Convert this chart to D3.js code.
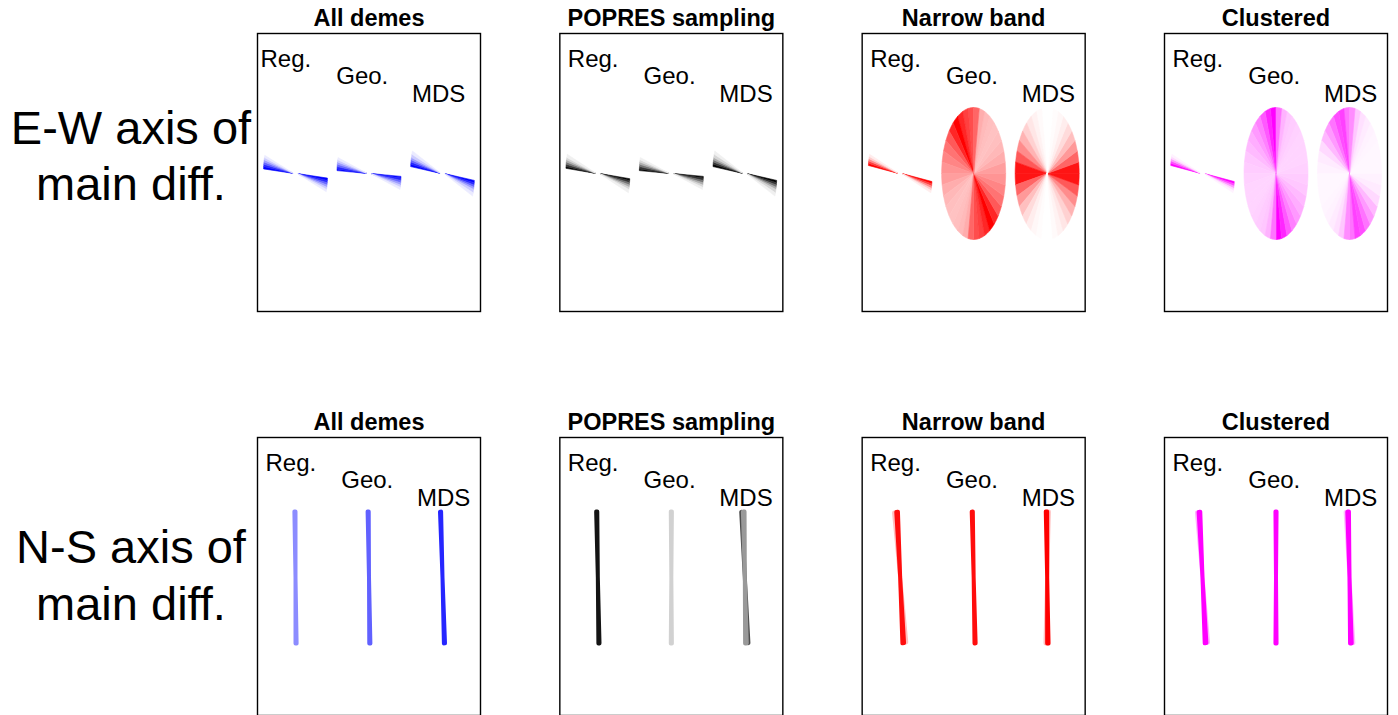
<!DOCTYPE html>
<html>
<head>
<meta charset="utf-8">
<script src="https://cdn.jsdelivr.net/npm/d3@7"></script>
<style>
    body { margin: 0; background: #fff; }
    text { font-family: Helvetica, Arial, "Liberation Sans", sans-serif; fill: #000; }
</style>
</head>
<body>
<script>

// Data ///////////////////////////////////////////

const samplings = ["All demes", "POPRES sampling", "Narrow band", "Clustered"];
const colours = ["#0000ff", "#000000", "#ff0000", "#ff00ff"];
const methods = ["Reg.", "Geo.", "MDS"];
const rows = ["E-W", "N-S"];
const rowLabels = [["E-W axis of", "main diff."], ["N-S axis of", "main diff."]];

// orientation bins of the estimated axis: [from deg, to deg, share]
// 0 = east-west, 90 = north-south; each bin is drawn both ways from the centre
const ewAllDemes = [
    [[-6, -4, 1], [-8, -6, 0.85], [-10, -8, 0.6], [-12, -10, 0.38], [-14, -12, 0.2], [-16, -14, 0.08]],
    [[-4, -2.5, 1], [-6, -4, 0.85], [-8, -6, 0.6], [-10, -8, 0.38], [-12, -10, 0.2], [-14, -12, 0.08]],
    [[-8, -6, 1], [-10, -8, 0.85], [-12, -10, 0.6], [-14, -12, 0.38], [-17, -14, 0.2], [-20, -17, 0.08]]
];
const ewPopres = [
    [[-6, -4.5, 1], [-8, -6, 0.8], [-10, -8, 0.55], [-12, -10, 0.32], [-14, -12, 0.16], [-17, -14, 0.06]],
    [[-4, -2.5, 1], [-6, -4, 0.8], [-8, -6, 0.55], [-10, -8, 0.32], [-12, -10, 0.16], [-14, -12, 0.06]],
    [[-8, -6, 1], [-10, -8, 0.8], [-12, -10, 0.55], [-14, -12, 0.32], [-17, -14, 0.16], [-20, -17, 0.06]]
];
const ewNarrow = [
    [[-9, -7, 1], [-11, -9, 0.75], [-13, -11, 0.45], [-15, -13, 0.2], [-17, -15, 0.07]],
    [[-90, -80, 0.7], [-80, -70, 0.75], [-70, -60, 0.85], [-60, -50, 1], [-50, -40, 0.85],
     [-40, -30, 0.65], [-30, -20, 0.55], [-20, -10, 0.48], [-10, 0, 0.42], [0, 10, 0.38],
     [10, 20, 0.32], [20, 30, 0.28], [30, 40, 0.25], [40, 50, 0.24], [50, 60, 0.25],
     [60, 70, 0.27], [70, 80, 0.32], [80, 90, 0.6]],
    [[-90, -80, 0], [-80, -70, 0.02], [-70, -60, 0.05], [-60, -50, 0.1], [-50, -40, 0.18],
     [-40, -30, 0.3], [-30, -20, 0.45], [-20, -10, 0.65], [-10, 0, 0.92], [0, 10, 0.92],
     [10, 20, 0.6], [20, 30, 0.4], [30, 40, 0.25], [40, 50, 0.14], [50, 60, 0.07],
     [60, 70, 0.03], [70, 80, 0.01], [80, 90, 0]]
];
const ewClustered = [
    [[-9, -7, 1], [-11, -9, 0.7], [-13, -11, 0.4], [-15, -13, 0.15], [-17, -15, 0.05]],
    [[-90, -80, 1], [-80, -70, 0.85], [-70, -60, 0.65], [-60, -50, 0.5], [-50, -40, 0.4],
     [-40, -30, 0.32], [-30, -20, 0.27], [-20, -10, 0.22], [-10, 0, 0.2], [0, 10, 0.18],
     [10, 20, 0.17], [20, 30, 0.17], [30, 40, 0.17], [40, 50, 0.18], [50, 60, 0.2],
     [60, 70, 0.22], [70, 80, 0.3], [80, 90, 0.55]],
    [[-90, -80, 0.55], [-80, -70, 0.75], [-70, -60, 0.7], [-60, -50, 0.55], [-50, -40, 0.4],
     [-40, -30, 0.28], [-30, -20, 0.15], [-20, -10, 0.08], [-10, 0, 0.05], [0, 10, 0.03],
     [10, 20, 0.03], [20, 30, 0.03], [30, 40, 0.04], [40, 50, 0.05], [50, 60, 0.08],
     [60, 70, 0.12], [70, 80, 0.22], [80, 90, 0.45]]
];

const nsAllDemes = [
    [[90, 92, 0.45]],
    [[90.5, 92.5, 0.62]],
    [[92.5, 94.5, 0.85]]
];
const nsPopres = [
    [[91, 93, 0.92]],
    [[89, 91, 0.18]],
    [[95.5, 96.5, 0.7], [90.5, 93.5, 0.4]]
];
const nsNarrow = [
    [[97, 101, 0.25], [94, 97, 0.95]],
    [[91.5, 93.5, 0.95]],
    [[87, 90, 0.25], [90, 92.5, 1]]
];
const nsClustered = [
    [[97, 100, 0.3], [94, 97, 1]],
    [[89, 91, 1]],
    [[94, 97, 0.25], [91, 94, 1]]
];

const fans = [
    [ewAllDemes, ewPopres, ewNarrow, ewClustered],
    [nsAllDemes, nsPopres, nsNarrow, nsClustered]
];

// Layout /////////////////////////////////////////

const width = 1398, height = 715;
const panel = { w: 223, h: 278 };
const fan = { rx: 32, ry: 66, cy: 140 };
const strokeByRow = [0.6, 4];

const svg = d3.select("body").append("svg")
    .attr("width", width)
    .attr("height", height);

const panelX = d3.scalePoint().domain(samplings).range([257.5, 1164.5]);
const rowY = d3.scalePoint().domain(rows).range([33.5, 437.5]);
const methodX = d3.scalePoint().domain(methods).range([38, 185]);
const labelX = d3.scalePoint().domain(methods).range([8, 159.5]);
const labelY = d3.scalePoint().domain(methods).range([33, 68]);
const rad = d3.scaleLinear().domain([0, 180]).range([0, Math.PI]);

// bowtie sector, both directions from the centre, starting r0 px out
function sector(cx, cy, lo, hi, r0) {
    const p = d3.path();
    const n = Math.max(2, Math.ceil(hi - lo));
    [0, 180].forEach(off => {
        const a0 = rad(lo + off), a1 = rad(hi + off);
        p.moveTo(cx + r0 * Math.cos(a0), cy - r0 * Math.sin(a0));
        for (let i = 0; i <= n; i++) {
            const a = rad(lo + off + (hi - lo) * i / n);
            p.lineTo(cx + fan.rx * Math.cos(a), cy - fan.ry * Math.sin(a));
        }
        p.lineTo(cx + r0 * Math.cos(a1), cy - r0 * Math.sin(a1));
        p.closePath();
    });
    return p.toString();
}

// Row labels /////////////////////////////////////

const rowLabelY = [[143.5, 200], [563, 619.5]];
rows.forEach((r, ri) => {
    svg.append("text")
        .attr("text-anchor", "middle")
        .style("font-size", "47px")
        .selectAll("tspan")
        .data(rowLabels[ri])
        .join("tspan")
        .attr("x", 131)
        .attr("y", (d, i) => rowLabelY[ri][i])
        .text(d => d);
});

// Panels /////////////////////////////////////////

rows.forEach((r, ri) => {
    samplings.forEach((s, si) => {
        const g = svg.append("g")
            .attr("transform", `translate(${panelX(s)},${rowY(r)})`);

        g.append("text")
            .attr("x", panel.w / 2)
            .attr("y", -7.5)
            .attr("text-anchor", "middle")
            .style("font-size", "23.5px")
            .style("font-weight", "bold")
            .text(s);

        g.append("rect")
            .attr("width", panel.w)
            .attr("height", panel.h)
            .attr("fill", "none")
            .attr("stroke", "#000")
            .attr("stroke-width", 1.4);

        // first panel of the top row has its labels a little further left
        const nudge = (ri === 0 && si === 0) ? -5 : 0;

        g.selectAll("text.method")
            .data(methods)
            .join("text")
            .attr("class", "method")
            .attr("x", d => labelX(d) + nudge)
            .attr("y", d => labelY(d))
            .style("font-size", "24px")
            .text(d => d);

        const tint = d3.interpolateRgb("#ffffff", colours[si]);

        methods.forEach((m, mi) => {
            const bins = fans[ri][si][mi];
            const spread = d3.max(bins, b => b[1]) - d3.min(bins, b => b[0]);
            const r0 = (ri === 0 && spread < 40) ? 3 : 0;
            g.append("g")
                .selectAll("path")
                .data(bins)
                .join("path")
                .attr("d", d => sector(methodX(m), fan.cy, d[0], d[1], r0))
                .attr("fill", d => tint(d[2]))
                .attr("stroke", d => tint(d[2]))
                .attr("stroke-width", strokeByRow[ri])
                .attr("stroke-linejoin", "round")
                .attr("stroke-linecap", "round");
        });
    });
});

</script>
</body>
</html>
